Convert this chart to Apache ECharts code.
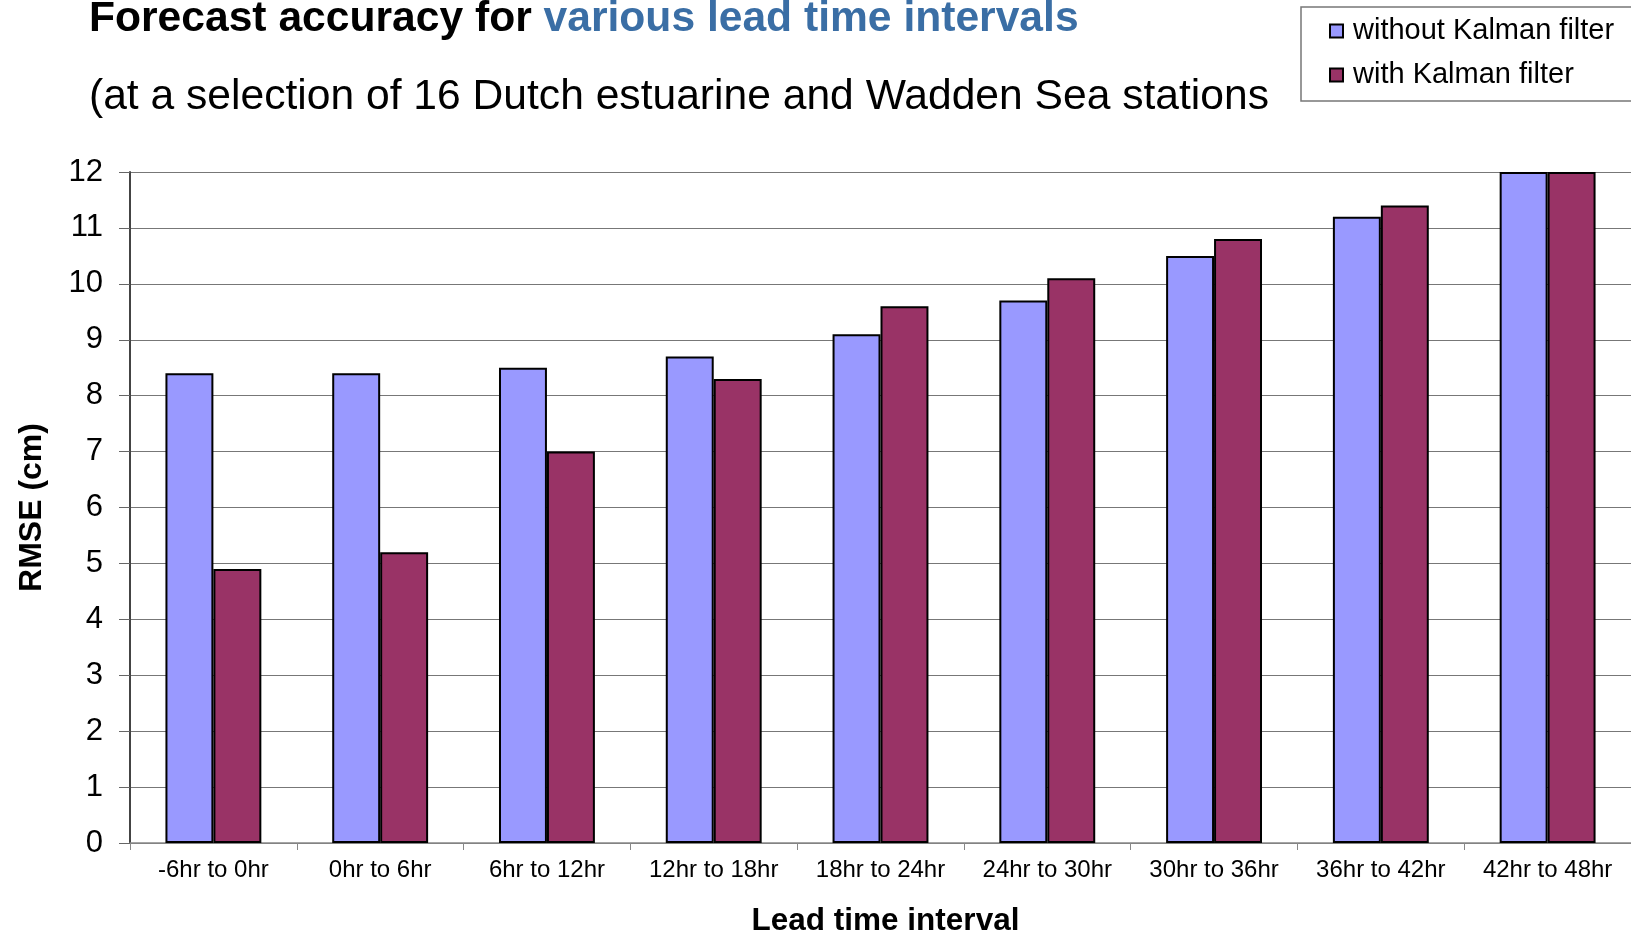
<!DOCTYPE html>
<html>
<head>
<meta charset="utf-8">
<script src="https://cdn.jsdelivr.net/npm/echarts@6/dist/echarts.min.js"></script>
<style>
html,body{margin:0;padding:0;background:#fff;}
#chart{width:1631px;height:942px;}
</style>
</head>
<body>
<div id="chart"></div>
<script>
const categories = ['-6hr to 0hr','0hr to 6hr','6hr to 12hr','12hr to 18hr','18hr to 24hr','24hr to 30hr','30hr to 36hr','36hr to 42hr','42hr to 48hr'];
const withoutKalman = [8.4, 8.4, 8.5, 8.7, 9.1, 9.7, 10.5, 11.2, 12.0];
const withKalman = [4.9, 5.2, 7.0, 8.3, 9.6, 10.1, 10.8, 11.4, 12.0];
const seriesNames = ['without Kalman filter','with Kalman filter'];
const yTicks = {min: 0, max: 12, interval: 1};

const FONT = '"Liberation Sans", Arial, Helvetica, sans-serif';
const chart = echarts.init(document.getElementById('chart'), null, {renderer: 'canvas'});
chart.setOption({
  backgroundColor: '#ffffff',
  animation: false,
  textStyle: {fontFamily: FONT},
  title: [
    {
      text: '{a|Forecast accuracy for }{b|various lead time intervals}',
      left: 84, top: -7,
      textStyle: {
        rich: {
          a: {fontFamily: FONT, fontSize: 42.6, fontWeight: 'bold', color: '#000'},
          b: {fontFamily: FONT, fontSize: 42.6, fontWeight: 'bold', color: '#3A6EA5'}
        }
      }
    },
    {
      text: '(at a selection of 16 Dutch estuarine and Wadden Sea stations',
      left: 84, top: 71,
      textStyle: {fontFamily: FONT, fontSize: 42.6, fontWeight: 'normal', color: '#000'}
    }
  ],
  legend: {
    orient: 'vertical',
    left: 1301, top: 7,
    padding: [9, 40, 11, 28],
    itemWidth: 13, itemHeight: 13,
    itemGap: 14,
    borderColor: '#777', borderWidth: 1.5,
    backgroundColor: '#fff',
    icon: 'rect',
    textStyle: {fontFamily: FONT, fontSize: 29, lineHeight: 30, color: '#000', padding: [0,0,0,5]},
    data: seriesNames
  },
  grid: {left: 130, right: 0, top: 172, bottom: 95, containLabel: false},
  xAxis: {
    type: 'category',
    data: categories,
    name: 'Lead time interval',
    nameLocation: 'middle',
    nameGap: 62,
    nameTextStyle: {fontFamily: FONT, fontSize: 31.5, fontWeight: 'bold', color: '#000', padding: [0,0,0,10]},
    axisLine: {lineStyle: {color: '#888', width: 1.5}},
    axisTick: {show: true, alignWithLabel: false, length: 7, lineStyle: {color: '#888'}},
    axisLabel: {fontFamily: FONT, fontSize: 24, color: '#000', margin: 15, interval: 0}
  },
  yAxis: {
    type: 'value',
    min: yTicks.min, max: yTicks.max, interval: yTicks.interval,
    name: 'RMSE (cm)',
    nameLocation: 'middle',
    nameRotate: 90,
    nameGap: 82,
    nameTextStyle: {fontFamily: FONT, fontSize: 32, fontWeight: 'bold', color: '#000'},
    axisLine: {show: true, lineStyle: {color: '#444', width: 2}},
    axisTick: {show: true, length: 11, lineStyle: {color: '#666'}},
    axisLabel: {fontFamily: FONT, fontSize: 31, color: '#000', margin: 27},
    splitLine: {show: true, lineStyle: {color: '#777', width: 1.2}}
  },
  series: [
    {
      name: seriesNames[0], type: 'bar', data: withoutKalman,
      barGap: '0%', barCategoryGap: '42.5%',
      itemStyle: {color: '#9999FF', borderColor: '#000', borderWidth: 2}
    },
    {
      name: seriesNames[1], type: 'bar', data: withKalman,
      barGap: '0%', barCategoryGap: '42.5%',
      itemStyle: {color: '#993366', borderColor: '#000', borderWidth: 2}
    }
  ]
});
</script>
</body>
</html>
